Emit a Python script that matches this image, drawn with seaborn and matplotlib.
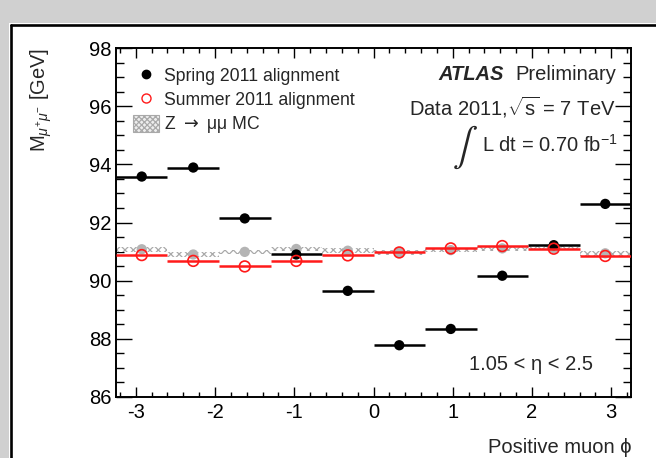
import numpy as np
import pandas as pd
import matplotlib
matplotlib.use("Agg")
import matplotlib.pyplot as plt
from matplotlib.patches import Rectangle, Patch
from matplotlib.lines import Line2D
from matplotlib.ticker import MultipleLocator
import seaborn as sns

# ---------------- data ----------------
bin_edges = [-3.25, -2.6, -1.95, -1.3, -0.65, 0.0, 0.65, 1.3, 1.95, 2.6, 3.25]
spring_mass = [93.58, 93.89, 92.14, 90.90, 89.65, 87.78, 88.34, 90.17, 91.22, 92.64]
summer_mass = [90.88, 90.68, 90.49, 90.68, 90.87, 90.97, 91.11, 91.19, 91.10, 90.85]
mc_mass = [91.08, 90.90, 90.99, 91.09, 91.03, 90.97, 91.05, 91.11, 91.12, 90.94]
mc_err = [0.08, 0.08, 0.08, 0.08, 0.08, 0.08, 0.08, 0.08, 0.08, 0.08]
legend_labels = ["Spring 2011 alignment", "Summer 2011 alignment", r"Z $\rightarrow$ μμ MC"]
x_label = "Positive muon ϕ"
y_label = r"M$_{\mu^{+}\mu^{-}}$ [GeV]"

edges = np.array(bin_edges)
centers = 0.5 * (edges[:-1] + edges[1:])
widths = np.diff(edges)
df = pd.DataFrame({"phi": centers, "spring": spring_mass, "summer": summer_mass,
                   "mc": mc_mass, "mc_err": mc_err, "lo": edges[:-1], "hi": edges[1:]})

# ---------------- style ----------------
sns.set_theme(style="ticks")
plt.rcParams["font.family"] = ["Liberation Sans", "DejaVu Sans"]
plt.rcParams["mathtext.fontset"] = "custom"
plt.rcParams["mathtext.rm"] = "Liberation Sans"
plt.rcParams["mathtext.it"] = "Liberation Sans:italic"
plt.rcParams["mathtext.bf"] = "Liberation Sans:bold"
plt.rcParams["axes.unicode_minus"] = False
plt.rcParams["hatch.linewidth"] = 0.9
plt.rcParams["hatch.color"] = "#a9a9a9"

fig = plt.figure(figsize=(6.56, 4.58), dpi=100, facecolor="white")
# slide frame
fig.patches.append(Rectangle((0, 1 - 23 / 458), 1, 23 / 458, transform=fig.transFigure,
                             facecolor="#d0d0d0", edgecolor="none", zorder=-5))
fig.patches.append(Rectangle((0, 0), 9 / 656, 1, transform=fig.transFigure,
                             facecolor="#d0d0d0", edgecolor="none", zorder=-5))
fig.add_artist(Line2D([10.5 / 656, 1], [1 - 24.5 / 458, 1 - 24.5 / 458], transform=fig.transFigure,
                      color="black", lw=1.9, zorder=-4))
fig.add_artist(Line2D([10.5 / 656, 10.5 / 656], [0, 1 - 24.5 / 458], transform=fig.transFigure,
                      color="black", lw=1.9, zorder=-4))

ax = fig.add_axes([116 / 656, 1 - 397 / 458, 515 / 656, 349 / 458])
ax.set_facecolor("white")

# MC band
ax.bar(df["phi"], 2 * df["mc_err"], bottom=df["mc"] - df["mc_err"], width=widths,
       facecolor="white", edgecolor="#a9a9a9", hatch="xxxx", linewidth=0, zorder=1)
sns.scatterplot(data=df, x="phi", y="mc", ax=ax, color="#b4b4b4", s=55,
                edgecolor="none", zorder=2, legend=False)

# spring (black)
ax.hlines(df["spring"], df["lo"], df["hi"], colors="black", lw=1.8, zorder=3)
sns.scatterplot(data=df, x="phi", y="spring", ax=ax, color="black", s=55,
                edgecolor="none", zorder=4, legend=False)

# summer (red open)
ax.hlines(df["summer"], df["lo"], df["hi"], colors="#ff1a1a", lw=1.8, zorder=5)
sns.scatterplot(data=df, x="phi", y="summer", ax=ax, facecolor="none", s=60,
                edgecolor="#ff1a1a", linewidth=1.2, zorder=6, legend=False)

ax.set_xlim(-3.25, 3.25)
ax.set_ylim(86, 98)
ax.xaxis.set_major_locator(MultipleLocator(1))
ax.xaxis.set_minor_locator(MultipleLocator(0.2))
ax.yaxis.set_major_locator(MultipleLocator(2))
ax.yaxis.set_minor_locator(MultipleLocator(0.5))
ax.tick_params(axis="both", which="both", direction="in", top=True, right=True,
               colors="black", width=1.0)
ax.tick_params(axis="x", which="major", length=7.5, pad=4.5, labelsize=14.5)
ax.tick_params(axis="x", which="minor", length=3.8)
ax.tick_params(axis="y", which="major", length=11.5, pad=3, labelsize=14.5)
ax.tick_params(axis="y", which="minor", length=5.8)
for s in ax.spines.values():
    s.set_linewidth(1.4)
    s.set_color("black")

ax.set_xlabel(x_label, fontsize=14.5, loc="right")
ax.xaxis.set_label_coords(1.0, -0.118)
ax.xaxis.label.set_va("top")
ax.set_ylabel(y_label, fontsize=14.5, loc="top")
ax.yaxis.set_label_coords(-0.12, 1.0)

# legend
handles = [
    Line2D([], [], marker="o", color="black", ls="none", markersize=6),
    Line2D([], [], marker="o", markerfacecolor="none", markeredgecolor="#ff1a1a",
           markeredgewidth=1.0, ls="none", markersize=6.5),
    Patch(facecolor="#eeeeee", edgecolor="#a9a9a9", hatch="xxxxxx", linewidth=0.8),
]
leg = ax.legend(handles, legend_labels, loc="upper left", bbox_to_anchor=(0.02, 0.968),
                frameon=False, fontsize=12.7, handlelength=1.45, handleheight=1.15,
                handletextpad=0.3, labelspacing=0.3, borderaxespad=0)
leg.get_texts()[2].set_math_fontfamily("dejavusans")

# annotations
ax.text(0.971, 0.925, "Preliminary", transform=ax.transAxes,
        ha="right", va="center", fontsize=14.5)
ax.text(0.753, 0.925, "ATLAS", transform=ax.transAxes, ha="right", va="center",
        fontsize=14.5, fontweight="bold", fontstyle="italic")
ax.text(0.971, 0.831, r"Data 2011,$\sqrt{\mathrm{s}}$ = 7 TeV", transform=ax.transAxes,
        ha="right", va="center", fontsize=14.5)
ax.text(0.711, 0.722, r"L dt = 0.70 fb$^{\mathrm{-1}}$", transform=ax.transAxes,
        ha="left", va="center", fontsize=14.5)
ax.text(0.677, 0.714, r"$\int$", transform=ax.transAxes, ha="center", va="center",
        fontsize=27, math_fontfamily="stix")
ax.text(0.926, 0.092, "1.05 < η < 2.5", transform=ax.transAxes,
        ha="right", va="center", fontsize=14.5)

fig.savefig("out.png", dpi=100, facecolor="white")
